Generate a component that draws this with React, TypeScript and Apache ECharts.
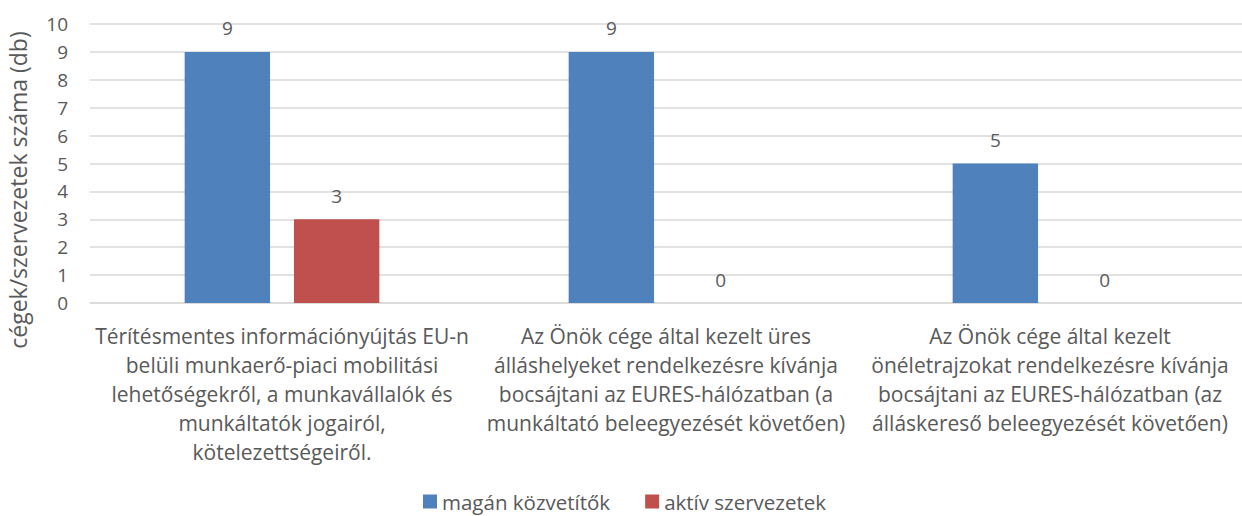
import React, { useEffect, useRef } from "react";
import * as echarts from "echarts";

const categories = [
  "Térítésmentes információnyújtás EU-n\nbelüli munkaerő-piaci mobilitási\nlehetőségekről, a munkavállalók és\nmunkáltatók jogairól,\nkötelezettségeiről.",
  "Az Önök cége által kezelt üres\nálláshelyeket rendelkezésre kívánja\nbocsájtani az EURES-hálózatban (a\nmunkáltató beleegyezését követően)",
  "Az Önök cége által kezelt\nönéletrajzokat rendelkezésre kívánja\nbocsájtani az EURES-hálózatban (az\nálláskereső beleegyezését követően)",
];
const seriesNames = ["magán közvetítők", "aktív szervezetek"];
const maganValues = [9, 9, 5];
const aktivValues = [3, 0, 0];
const yAxisTitle = "cégek/szervezetek száma (db)";

const FONT = "Open Sans";
const TEXT = "#595959";

export default function App() {
  const ref = useRef<HTMLDivElement>(null);
  useEffect(() => {
    if (!ref.current) return;
    const chart = echarts.init(ref.current, undefined, { renderer: "svg" });
    const label = {
      show: true,
      position: "top" as const,
      distance: 14,
      color: TEXT,
      fontFamily: FONT,
      fontSize: 19,
    };
    chart.setOption({
      animation: false,
      textStyle: { fontFamily: FONT, color: TEXT },
      grid: { left: 90, top: 24, right: -7, bottom: 213, containLabel: false },
      legend: {
        left: 423,
        top: 491,
        padding: 0,
        itemWidth: 14,
        itemHeight: 14,
        itemGap: 35,
        icon: "rect",
        textStyle: { color: TEXT, fontFamily: FONT, fontSize: 20.5, lineHeight: 20 },
        data: seriesNames,
      },
      xAxis: {
        type: "category",
        data: categories,
        axisLine: { show: true, lineStyle: { color: "#D9D9D9", width: 1.5 } },
        axisTick: { show: false },
        axisLabel: {
          interval: 0,
          margin: 18,
          color: TEXT,
          fontFamily: FONT,
          fontSize: 21,
          lineHeight: 29,
          align: "center",
        },
      },
      yAxis: {
        type: "value",
        min: 0,
        max: 10,
        interval: 1,
        axisLine: { show: false },
        axisTick: { show: false },
        splitLine: { lineStyle: { color: "#D9D9D9", width: 1.5 } },
        axisLabel: { margin: 22, color: TEXT, fontFamily: FONT, fontSize: 19 },
      },
      graphic: [
        {
          type: "text",
          x: 18,
          y: 190,
          rotation: Math.PI / 2,
          style: {
            text: yAxisTitle,
            fill: TEXT,
            fontFamily: FONT,
            fontSize: 23,
            textAlign: "center",
            textVerticalAlign: "middle",
          },
        },
      ],
      series: [
        {
          name: seriesNames[0],
          type: "bar",
          data: maganValues,
          itemStyle: { color: "#4F81BD" },
          barGap: "28%",
          barCategoryGap: "49.3%",
          label,
        },
        {
          name: seriesNames[1],
          type: "bar",
          data: aktivValues,
          itemStyle: { color: "#C0504D" },
          label,
        },
      ],
    });
    return () => chart.dispose();
  }, []);
  return (
    <div
      ref={ref}
      style={{ position: "absolute", left: 0, top: 0, width: 1242, height: 516 }}
    />
  );
}
